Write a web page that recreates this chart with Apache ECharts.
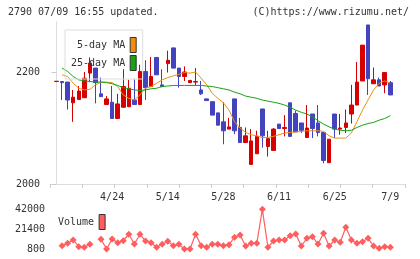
<!DOCTYPE html>
<html><head><meta charset="utf-8">
<script src="https://cdn.jsdelivr.net/npm/echarts@6/dist/echarts.min.js"></script>
<style>html,body{margin:0;padding:0;background:#fff}#c{width:420px;height:259px}</style>
</head><body><div id="c"></div>
<script>
// x tick labels (trading-day index -> date)
const xTickIndex = [10, 20, 30, 40, 50, 60];
const xTickLabels = ['4/24', '5/14', '5/28', '6/11', '6/25', '7/9'];
const priceLabels = [2000, 2200];
const volumeLabels = [800, 21400, 42000];

const opens  = [2183,2183,2182,2145,2151,2154,2198,2207,2161,2142,2146,2117,2137,2138,2150,2142,2201,2174,2226,2177,2215,2243,2207,2192,2181,2182,2168,2152,2147,2127,2111,2098,2152,2101,2074,2035,2054,2134,2067,2060,2107,2099,2145,2126,2109,2083,2125,2109,2092,2038,2125,2098,2101,2125,2141,2184,2284,2179,2186,2177,2181];
const closes = [2183.5,2181,2150,2155,2166,2189,2216,2181,2156,2152,2117,2143,2174,2171,2142,2201,2172,2192,2195,2174,2221,2207,2192,2200,2185,2183,2161,2149,2123,2105,2095,2102,2095,2074,2086,2077,2085,2086,2081,2098,2099,2101,2085,2093,2096,2100,2099,2092,2042,2080,2098,2100,2109,2141,2182,2248,2188,2186,2175,2199,2159];
const lows   = [2183,2150,2133,2111,2151,2154,2182,2144,2156,2142,2117,2117,2137,2138,2142,2142,2150,2174,2195,2174,2199,2207,2172,2184,2181,2176,2159,2149,2123,2105,2071,2098,2089,2074,2074,2035,2054,2065,2049,2060,2099,2085,2085,2093,2091,2083,2082,2085,2037,2038,2082,2088,2091,2108,2141,2184,2159,2179,2175,2162,2159];
const highs  = [2183.5,2183,2182,2168,2175,2200,2226,2207,2190,2157,2175,2161,2205,2186,2187,2213,2221,2227,2226,2205,2238,2243,2207,2210,2185,2207,2184,2152,2147,2127,2146,2118,2152,2118,2101,2098,2095,2134,2095,2100,2107,2123,2145,2131,2109,2141,2125,2141,2092,2080,2125,2125,2133,2177,2218,2248,2284,2208,2190,2199,2184];

const ma5  = [null,2195,2192,2180,2171,2168,2169,2177,2182,2182,2181,2174,2159,2153,2150,2159,2171,2174,2180,2186,2190,2193,2196,2199,2198,2200,2189,2177,2162,2153,2145,2132,2111,2100,2092,2088,2086,2083,2083,2085,2088,2091,2092,2093,2094,2095,2095,2095,2094,2086,2082,2082,2082,2091,2111,2132,2150,2168,2180,2184,2180];
const ma25 = [null,2207,2201,2192,2186,2184,2183,2182,2182,2181,2179,2176,2172,2170,2168,2167,2168,2170,2171,2174,2175,2176,2176,2176,2176,2176,2176,2175,2174,2172,2170,2168,2164,2161,2157,2155,2153,2150,2148,2146,2144,2141,2137,2132,2128,2125,2120,2113,2107,2102,2098,2096,2095,2096,2101,2105,2108,2110,2114,2117,2122];

const volumes = [null,4200,6700,10100,3200,2600,5600,null,10800,800,11100,7300,9300,16000,6000,16000,9000,7300,2600,5600,8700,4200,5600,800,800,16000,4200,2600,5600,5600,4200,5200,12900,15200,3900,6700,6700,41700,2600,9000,10100,10100,14500,16250,3900,11800,13500,6000,17000,3900,10100,7700,23150,10100,6700,8300,11800,3900,1500,3200,2600];

const FONT = 'DejaVu Sans Mono';
const RED = '#d60000', BLUE = '#4343bf';
const idx = opens.map((_, i) => i);
const XMIN = -1.168, XMAX = 62.64;

const chart = echarts.init(document.getElementById('c'), null, {renderer: 'canvas'});
chart.setOption({
  animation: false,
  backgroundColor: '#fff',
  title: [
    {text: '2790 07/09 16:55 updated.', left: 8, top: 7, padding: 0,
     textStyle: {fontFamily: FONT, fontSize: 10, fontWeight: 'normal', color: '#333'}},
    {text: '(C)https://www.rizumu.net/', right: 11, top: 7, padding: 0,
     textStyle: {fontFamily: FONT, fontSize: 10, fontWeight: 'normal', color: '#333'}}
  ],
  legend: [
    {data: [{name: '5-day MA'}, {name: '25-day MA'}], orient: 'vertical', left: 65, top: 30,
     align: 'right', itemWidth: 6, itemHeight: 15, itemGap: 2, padding: [7, 6, 8, 6],
     borderColor: '#ddd', borderWidth: 1, icon: 'rect', selectedMode: false,
     itemStyle: {borderColor: '#333', borderWidth: 1},
     textStyle: {fontFamily: FONT, fontSize: 10, color: '#333'}},
    {data: [{name: 'Volume'}], orient: 'vertical', left: 58, top: 214, align: 'right',
     itemWidth: 6, itemHeight: 15, padding: 0, icon: 'rect', selectedMode: false,
     itemStyle: {borderColor: '#333', borderWidth: 1},
     textStyle: {fontFamily: FONT, fontSize: 10, color: '#333'}}
  ],
  grid: [
    {left: 50, right: 15, top: 21.6, height: 162.4},
    {left: 50, right: 15, top: 209, height: 40}
  ],
  xAxis: [
    {type: 'value', gridIndex: 0, min: XMIN, max: XMAX,
     axisLine: {show: true, lineStyle: {color: '#ddd'}},
     axisTick: {show: false}, splitLine: {show: false},
     axisLabel: {customValues: xTickIndex, margin: 8,
       formatter: v => xTickLabels[xTickIndex.indexOf(v)] || '',
       fontFamily: FONT, fontSize: 10, color: '#333'}},
    {type: 'value', gridIndex: 0, min: 0, max: 11, interval: 1, position: 'bottom',
     axisLine: {show: false}, axisLabel: {show: false}, splitLine: {show: false},
     axisTick: {show: true, length: 4, lineStyle: {color: '#ccc'}}},
    {type: 'value', gridIndex: 1, min: XMIN, max: XMAX, show: false}
  ],
  yAxis: [
    {type: 'value', gridIndex: 0, min: 2000, max: 2290,
     axisLine: {show: true, lineStyle: {color: '#ddd'}},
     axisTick: {show: true, customValues: priceLabels, length: 5, lineStyle: {color: '#ccc'}},
     splitLine: {show: false},
     axisLabel: {customValues: priceLabels, margin: 10, formatter: v => String(v),
       fontFamily: FONT, fontSize: 10, color: '#333'}},
    {type: 'value', gridIndex: 1, min: 800, max: 42000,
     axisLine: {show: false}, axisTick: {show: false}, splitLine: {show: false},
     axisLabel: {customValues: volumeLabels, margin: 5, formatter: v => String(v),
       fontFamily: FONT, fontSize: 10, color: '#333'}}
  ],
  series: [
    {type: 'candlestick', xAxisIndex: 0, yAxisIndex: 0, barWidth: 4,
     encode: {x: 0, y: [1, 2, 3, 4]},
     data: idx.map(i => [i, opens[i], closes[i], lows[i], highs[i]]),
     itemStyle: {color: RED, color0: BLUE, borderColor: RED, borderColor0: BLUE, borderWidth: 1}},
    {type: 'line', name: '5-day MA', xAxisIndex: 0, yAxisIndex: 0, symbol: 'none',
     color: '#f0900a', lineStyle: {width: 1},
     data: idx.map(i => [i, ma5[i]])},
    {type: 'line', name: '25-day MA', xAxisIndex: 0, yAxisIndex: 0, symbol: 'none',
     color: '#16a316', lineStyle: {width: 1},
     data: idx.map(i => [i, ma25[i]])},
    {type: 'line', name: 'Volume', xAxisIndex: 2, yAxisIndex: 1, symbol: 'diamond', symbolSize: 7,
     color: '#ff5e5e', lineStyle: {width: 1.2}, connectNulls: false,
     data: idx.map(i => [i, volumes[i]])}
  ]
});
</script>
</body></html>
